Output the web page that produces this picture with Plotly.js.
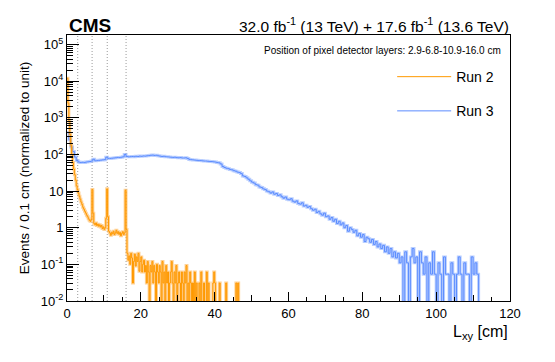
<!DOCTYPE html>
<html><head><meta charset="utf-8">
<script src="https://cdn.plot.ly/plotly-3.0.1.min.js"></script>
<style>html,body{margin:0;padding:0;background:#fff;}#chart{width:555px;height:362px;}</style>
</head><body><div id="chart"></div>
<script>
// value used for empty bins (drawn below the visible log range)
const Z = 1e-4;

// Run 2: events per bin, bins of 0.25 cm starting at 0
const run2BinWidth = 0.25;
const run2Events = [
  12000, 2500, 800, 350,
  180, 100, 60, 40,
  28, 20, 14, 11,
  8.8, 7.2, 6.0, 5.0,
  4.3, 3.6, 3.2, 2.8,
  2.5, 2.2, 2.0, 1.75,
  1.6, 1.5, 1.7, 11,
  2.5, 1.3, 1.2, 1.35,
  1.15, 1.25, 1.1, 1.2,
  1.05, 1.15, 0.95, 1.05,
  0.9, 1.0, 1.8, 11.5,
  2.0, 0.8, 0.72, 0.62,
  0.75, 0.68, 0.8, 0.65,
  0.72, 0.85, 0.7, 0.78,
  0.66, 0.74, 0.6, 0.7,
  0.78, 0.65, 0.72, 10.5,
  0.9, 0.2, 0.13, 0.17,
  0.1, 0.2, 0.15, 0.031,
  0.12, 0.19, 0.09, 0.16,
  0.12, 0.2, 0.065, 0.12,
  0.16, 0.062, 0.1, 0.13,
  0.062, 0.093, 0.031, 0.12,
  0.062, Z, 0.093, 0.062,
  0.12, 0.031, 0.093, 0.062,
  Z, 0.1, 0.062, 0.031,
  0.093, 0.062, Z, 0.12,
  0.031, 0.062, Z, 0.093,
  0.031, 0.062, Z, 0.031,
  0.062, 0.12, 0.031, Z,
  0.062, 0.031, 0.093, Z,
  0.031, 0.062, 0.031, Z,
  0.062, 0.031, Z, 0.062,
  0.031, 0.093, Z, 0.031,
  Z, 0.062, 0.031, Z,
  0.031, Z, 0.062, Z,
  0.031, Z, Z, 0.031,
  Z, 0.062, Z, Z,
  0.031, Z, Z, 0.062,
  Z, 0.031, Z, Z,
  Z, Z, 0.031, 0.062,
  0.031, Z, Z, Z,
  Z, 0.031, Z, Z,
  Z, Z, Z, Z,
  0.031, Z, Z, Z,
  Z, Z, Z, Z,
  Z, Z, Z, 0.031,
  Z, 0.031, Z, Z,
  Z, Z
];

// Run 3: events per bin, bins of 0.5 cm starting at 0
const run3BinWidth = 0.5;
const run3Events = [
  400, 250, 160, 120, 85, 68, 62, 60, 61, 60,
  62, 63, 64, 66, 74, 67, 68, 69, 70, 71,
  72, 84, 78, 78, 79, 80, 81, 83, 82, 84,
  86, 100, 88, 86, 87, 88, 87, 89, 88, 90,
  89, 91, 90, 92, 93, 95, 96, 94, 95, 92,
  90, 88, 89, 87, 86, 85, 84, 83, 84, 82,
  81, 82, 80, 80, 81, 78, 73, 72, 71, 70,
  69, 68, 68, 67, 66, 66, 65, 64, 64, 63,
  62, 60, 59, 55, 47, 44, 42, 41, 39, 38,
  36, 35, 33, 32, 30, 26, 25, 23, 21, 19,
  17.5, 16.5, 15, 14.5, 13, 12.5, 11.5, 11, 10, 9.6,
  8.8, 9.5, 8.2, 8.6, 7.6, 7.9, 7.0, 6.4, 6.9, 6.0,
  5.8, 6.2, 5.3, 5.0, 5.4, 4.6, 4.4, 4.8, 3.9, 4.1,
  3.6, 3.8, 3.3, 3.0, 3.2, 2.6, 2.8, 2.4, 2.2, 2.5,
  2.0, 2.1, 1.7, 1.9, 1.5, 1.7, 1.3, 1.5, 1.2, 1.35,
  1.0, 1.15, 0.8, 1.0, 0.9, 0.75, 0.85, 0.6, 0.7, 0.55,
  0.65, 0.42, 0.55, 0.5, 0.4, 0.48, 0.35, 0.42, 0.3, 0.36,
  0.27, 0.33, 0.22, 0.3, 0.2, 0.27, 0.16, 0.22, 0.15, 0.2,
  0.11, 0.16, Z, 0.22, 0.11, Z, 0.16, 0.27, 0.11, 0.16,
  Z, 0.22, 0.11, 0.054, 0.16, Z, 0.11, 0.054, 0.22, 0.054,
  Z, 0.11, 0.054, Z, 0.16, 0.054, 0.054, Z, 0.11, 0.054,
  Z, 0.054, 0.16, 0.054, Z, 0.11, 0.054, 0.054, Z, 0.16,
  0.054, 0.11, 0.054, Z
];

const seriesNames = ['Run 2', 'Run 3'];
const pixelLayers = [2.9, 6.8, 10.9, 16.0];
const xTickVals = [0, 20, 40, 60, 80, 100, 120];
const xMidTickVals = [10, 30, 50, 70, 90, 110];
const xMinorTickVals = [5, 15, 25, 35, 45, 55, 65, 75, 85, 95, 105, 115];
const yTickVals = [0.01, 0.1, 1, 10, 100, 1000, 10000, 100000];
const yTickText = ['10<sup>-2</sup>', '10<sup>-1</sup>', '1', '10', '10<sup>2</sup>', '10<sup>3</sup>', '10<sup>4</sup>', '10<sup>5</sup>'];
const yMinorVals = [];
for (let e = -2; e <= 5; e++) for (let d = 2; d <= 9; d++) yMinorVals.push(d * Math.pow(10, e));

function steps(vals, w) {
  const x = [], y = [];
  for (let i = 0; i < vals.length; i++) { x.push(i * w); y.push(vals[i]); }
  x.push(vals.length * w); y.push(vals[vals.length - 1]);
  return {x, y};
}
const s2 = steps(run2Events, run2BinWidth);
const s3 = steps(run3Events, run3BinWidth);

const ORANGE = '#ff9900', ORANGE_L = 'rgba(255,180,80,0.6)';
const BLUE = '#5b8cff', BLUE_L = 'rgba(140,175,255,0.6)';
const FONT = 'Liberation Sans, Arial, Helvetica, sans-serif';

const traces = [
  {x: s3.x, y: s3.y, type: 'scatter', mode: 'lines', line: {shape: 'hv', color: BLUE_L, width: 3}, showlegend: false, hoverinfo: 'skip'},
  {x: s3.x, y: s3.y, type: 'scatter', mode: 'lines', name: seriesNames[1], legendgroup: 'r3', legendrank: 2, line: {shape: 'hv', color: BLUE, width: 1}},
  {x: s2.x, y: s2.y, type: 'scatter', mode: 'lines', line: {shape: 'hv', color: ORANGE_L, width: 3}, showlegend: false, hoverinfo: 'skip'},
  {x: s2.x, y: s2.y, type: 'scatter', mode: 'lines', name: seriesNames[0], legendgroup: 'r2', legendrank: 1, line: {shape: 'hv', color: ORANGE, width: 1}},
  {x: [60], y: [1], xaxis: 'x2', yaxis: 'y2', type: 'scatter', mode: 'markers', marker: {opacity: 0}, showlegend: false, hoverinfo: 'skip'},
  {x: [60], y: [1], xaxis: 'x3', yaxis: 'y', type: 'scatter', mode: 'markers', marker: {opacity: 0}, showlegend: false, hoverinfo: 'skip'}
];

const shapes = pixelLayers.map(v => ({type: 'line', xref: 'x', yref: 'paper', x0: v, x1: v, y0: 0, y1: 1, line: {color: '#9a9a9a', width: 1, dash: '1px,2px'}, layer: 'below'}));

const layout = {
  width: 555, height: 362,
  margin: {l: 66.7, r: 45, t: 35, b: 61.3, pad: 0},
  paper_bgcolor: '#fff', plot_bgcolor: '#fff',
  font: {family: FONT, color: '#000', size: 13},
  showlegend: true,
  legend: {x: 0.734, y: 0.902, xanchor: 'left', yanchor: 'top', bgcolor: 'rgba(0,0,0,0)', font: {size: 14, family: FONT}, tracegroupgap: 13, traceorder: 'grouped', itemwidth: 54},
  xaxis: {
    range: [0, 120], tickmode: 'array', tickvals: xTickVals, ticks: 'inside', ticklen: 9, tickcolor: '#000', tickwidth: 1,
    showline: true, mirror: true, linecolor: '#000', linewidth: 1, showgrid: false, zeroline: false,
    tickfont: {size: 13, family: FONT}, ticklabelstandoff: 0
  },
  xaxis2: {
    overlaying: 'x', range: [0, 120], tickmode: 'array', tickvals: xMidTickVals, ticks: 'inside', ticklen: 6, tickcolor: '#000',
    showticklabels: false, showline: false, showgrid: false, zeroline: false, side: 'bottom', anchor: 'y'
  },
  xaxis3: {
    overlaying: 'x', range: [0, 120], tickmode: 'array', tickvals: xMinorTickVals, ticks: 'inside', ticklen: 4, tickcolor: '#000',
    showticklabels: false, showline: false, showgrid: false, zeroline: false, side: 'bottom', anchor: 'y'
  },
  yaxis: {
    type: 'log', range: [-2, 5.26], tickmode: 'array', tickvals: yTickVals, ticktext: yTickText, ticks: 'inside', ticklen: 12, tickcolor: '#000',
    showline: true, mirror: true, linecolor: '#000', linewidth: 1, showgrid: false, zeroline: false,
    tickfont: {size: 13, family: FONT},
    title: {text: 'Events / 0.1 cm (normalized to unit)', font: {size: 13.5, family: FONT}, standoff: 8}
  },
  yaxis2: {
    overlaying: 'y', type: 'log', range: [-2, 5.26], tickmode: 'array', tickvals: yMinorVals, ticks: 'inside', ticklen: 6, tickcolor: '#000',
    showticklabels: false, showline: false, showgrid: false, zeroline: false, side: 'left', anchor: 'x'
  },
  shapes: shapes,
  annotations: [
    {xref: 'paper', yref: 'paper', x: 0, y: 1.036, xanchor: 'left', yanchor: 'middle', text: '<b>CMS</b>', showarrow: false, font: {size: 19, family: FONT}},
    {xref: 'paper', yref: 'paper', x: 1.0023, y: 1.036, xanchor: 'right', yanchor: 'middle', text: '32.0 fb<sup>-1</sup> (13 TeV) + 17.6 fb<sup>-1</sup> (13.6 TeV)', showarrow: false, font: {size: 15.5, family: FONT}},
    {xref: 'paper', yref: 'paper', x: 0.984, y: 0.9435, xanchor: 'right', yanchor: 'middle', text: 'Position of pixel detector layers: 2.9-6.8-10.9-16.0 cm', showarrow: false, font: {size: 10, family: FONT}},
    {xref: 'paper', yref: 'paper', x: 0.9925, y: -0.12, xshift: 3, xanchor: 'right', yanchor: 'middle', text: 'L<sub>xy</sub> [cm]', showarrow: false, font: {size: 16, family: FONT}}
  ]
};

Plotly.newPlot('chart', traces, layout, {staticPlot: true, displayModeBar: false});
</script>
</body></html>
